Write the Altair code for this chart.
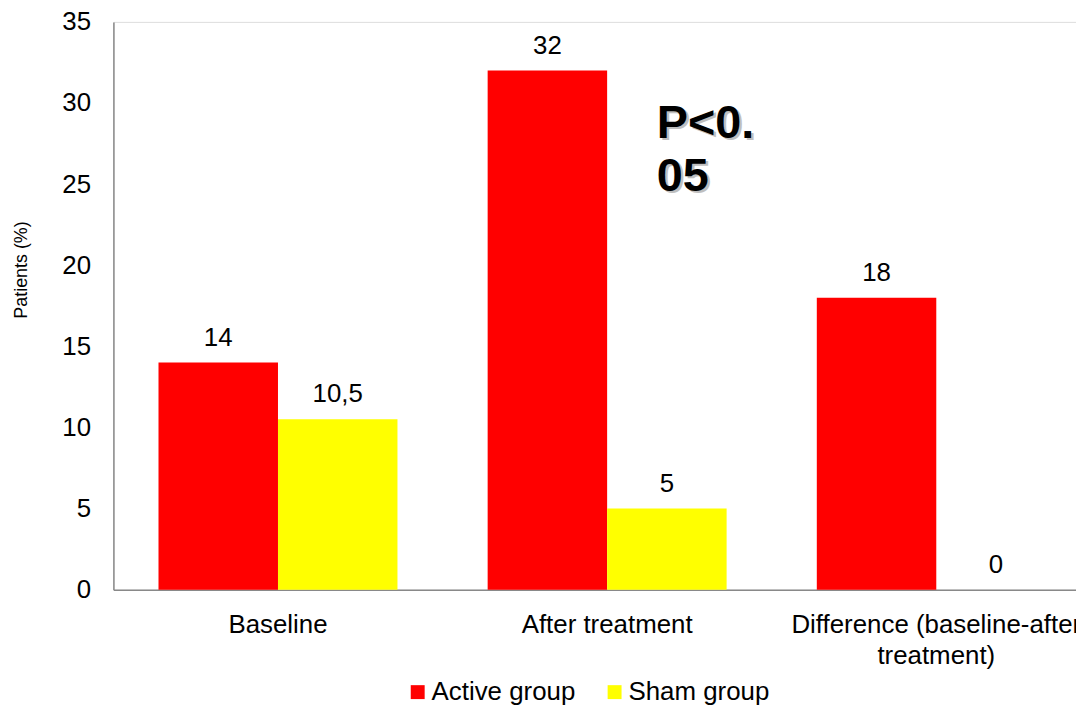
import altair as alt
import pandas as pd

categories = ["Baseline", "After treatment", "Difference (baseline-after treatment)"]
groups = ["Active group", "Sham group"]
active_values = [14, 32, 18]
sham_values = [10.5, 5, 0]
active_labels = ["14", "32", "18"]
sham_labels = ["10,5", "5", "0"]
group_colors = ["#FF0000", "#FFFF00"]
y_ticks = [0, 5, 10, 15, 20, 25, 30, 35]
annotation_lines = ["P<0.", "05"]
annotation_values = [27.85, 24.6]
annotation_category = "After treatment"

rows = []
for i, c in enumerate(categories):
    rows.append({"category": c, "group": groups[0], "value": active_values[i], "label": active_labels[i]})
    rows.append({"category": c, "group": groups[1], "value": sham_values[i], "label": sham_labels[i]})
df = pd.DataFrame(rows)
ann = pd.DataFrame({
    "category": [annotation_category] * len(annotation_lines),
    "text": annotation_lines,
    "value": annotation_values,
})

FONT = "Liberation Sans"
AXIS_GREY = "#898989"

x_scale = alt.Scale(domain=categories, range=[0, 993], paddingInner=0.274, paddingOuter=0.137)
x_axis = alt.Axis(
    title=None, labelAngle=0, labelFontSize=26, labelFont=FONT, labelColor="black",
    ticks=False, tickSize=0, labelPadding=22, domainColor=AXIS_GREY, domainWidth=1.5,
    labelLimit=0, labelOverlap=False, labelLineHeight=31,
    labelExpr="datum.label == 'Difference (baseline-after treatment)' ? ['Difference (baseline-after', 'treatment)'] : datum.label",
)
y_scale = alt.Scale(domain=[0, 35], nice=False)
y_axis = alt.Axis(
    values=y_ticks, grid=False, ticks=False, tickSize=0, labelFontSize=26, labelFont=FONT,
    labelColor="black", labelPadding=23, domainColor=AXIS_GREY, domainWidth=1.5,
    title="Patients (%)", titleFont=FONT, titleFontSize=18, titleFontWeight="normal",
    titleColor="black", titleX=-92, titleY=249, titleAngle=270, titleAlign="center",
    titleBaseline="middle",
)

x_enc = alt.X("category:N", scale=x_scale, axis=x_axis)
xoff_enc = alt.XOffset("group:N", scale=alt.Scale(domain=groups, paddingInner=0, paddingOuter=0))
y_enc = alt.Y("value:Q", scale=y_scale, axis=y_axis)

bars = alt.Chart(df).mark_bar().encode(
    x=x_enc,
    xOffset=xoff_enc,
    y=y_enc,
    color=alt.Color(
        "group:N",
        scale=alt.Scale(domain=groups, range=group_colors),
        legend=alt.Legend(
            orient="none", legendX=293, legendY=661, direction="horizontal", title=None,
            symbolType="square", symbolSize=196, symbolStrokeWidth=0, labelFontSize=26,
            labelFont=FONT, labelColor="black", labelOffset=1, columnPadding=26, padding=0,
        ),
    ),
)

labels = alt.Chart(df).mark_text(
    dy=-17, baseline="alphabetic", fontSize=26, font=FONT, color="black"
).encode(
    x=alt.X("category:N", scale=x_scale),
    xOffset=xoff_enc,
    y=alt.Y("value:Q", scale=y_scale),
    text="label:N",
)

shadow = alt.Chart(ann).mark_text(
    align="left", baseline="alphabetic", dx=52.5, dy=2.5, fontSize=47, fontWeight="bold",
    font=FONT, color="#8c8c8c", opacity=0.55
).encode(
    x=alt.X("category:N", scale=x_scale),
    y=alt.Y("value:Q", scale=y_scale),
    text="text:N",
)

annotation = alt.Chart(ann).mark_text(
    align="left", baseline="alphabetic", dx=50, fontSize=47, fontWeight="bold",
    font=FONT, color="black"
).encode(
    x=alt.X("category:N", scale=x_scale),
    y=alt.Y("value:Q", scale=y_scale),
    text="text:N",
)

chart = alt.layer(bars, labels, shadow, annotation).properties(
    width=968,
    height=571,
    padding={"left": 106, "top": 12, "right": 0, "bottom": 117},
    autosize=alt.AutoSizeParams(type="none"),
).configure_view(stroke=None).configure(font=FONT)

chart.save("out.html", embed_options={"renderer": "svg", "actions": False})
